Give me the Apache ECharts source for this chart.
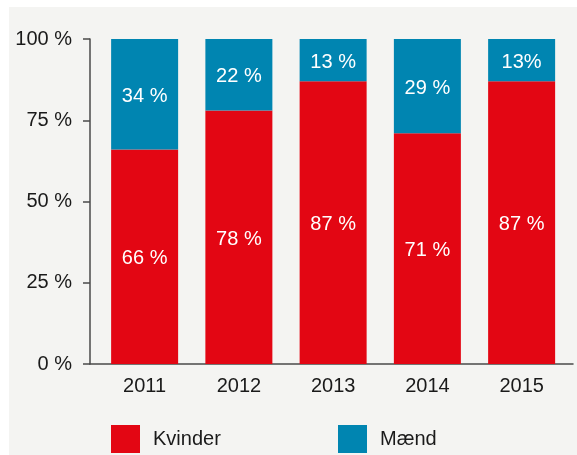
<!DOCTYPE html>
<html>
<head>
<meta charset="utf-8">
<script src="https://cdn.jsdelivr.net/npm/echarts@6/dist/echarts.min.js"></script>
<style>
	html, body { margin: 0; padding: 0; background: #ffffff; }
	#main { position: absolute; left: 9px; top: 7px; width: 568px; height: 448px; background: #f4f4f2; }
</style>
</head>
<body>
<div id="main"></div>
<script>
	// data
	var years = ['2011', '2012', '2013', '2014', '2015']
	var kvinder = [66, 78, 87, 71, 87]
	var maend = [34, 22, 13, 29, 13]
	var kvinderLabels = ['66 %', '78 %', '87 %', '71 %', '87 %']
	var maendLabels = ['34 %', '22 %', '13 %', '29 %', '13%']
	var yTicks = [0, 25, 50, 75, 100]

	var font = '"Liberation Sans", Arial, Helvetica, sans-serif'
	var red = '#e30613'
	var blue = '#0085b1'
	var axisColor = '#4a4a4a'
	var fs = 20

	var mychart = echarts.init(document.getElementById('main'))

	var option = {
		animation: false,
		textStyle: { fontFamily: font },
		grid: [
			{ left: 88.5, right: 8.25, top: 32, bottom: 91, containLabel: false },
			// second grid only carries the longer baseline
			{ left: 81, right: 4, top: 32, bottom: 91, containLabel: false }
		],
		legend: [
			{
				data: ['Kvinder'],
				left: 102, top: 418, padding: 0,
				itemWidth: 29, itemHeight: 28, itemGap: 0,
				icon: 'rect',
				textStyle: { fontSize: fs, color: '#1a1a1a', fontFamily: font, padding: [0, 0, 0, 8] }
			},
			{
				data: ['Mænd'],
				left: 329, top: 418, padding: 0,
				itemWidth: 29, itemHeight: 28, itemGap: 0,
				icon: 'rect',
				textStyle: { fontSize: fs, color: '#1a1a1a', fontFamily: font, padding: [0, 0, 0, 8] }
			}
		],
		xAxis: [
			{
				type: 'category',
				gridIndex: 0,
				data: years,
				axisLine: { show: false },
				axisTick: { show: false },
				axisLabel: { fontSize: fs, color: '#1a1a1a', margin: 12, fontFamily: font }
			},
			{
				type: 'category',
				gridIndex: 1,
				data: years,
				axisLine: { show: true, lineStyle: { color: axisColor, width: 1.5 } },
				axisTick: { show: false },
				axisLabel: { show: false }
			}
		],
		yAxis: [
			{
				type: 'value',
				gridIndex: 0,
				min: yTicks[0],
				max: yTicks[yTicks.length - 1],
				interval: 25,
				offset: 7.5,
				splitLine: { show: false },
				axisLine: { show: true, lineStyle: { color: axisColor, width: 1.5 } },
				axisTick: { show: true, length: 7, inside: false, lineStyle: { color: axisColor, width: 1.5 } },
				axisLabel: { fontSize: fs, color: '#1a1a1a', margin: 18, fontFamily: font, formatter: '{value} %' }
			},
			{
				type: 'value',
				gridIndex: 1,
				min: 0, max: 100,
				show: false
			}
		],
		series: [
			{
				name: 'Kvinder',
				type: 'bar',
				stack: 'total',
				xAxisIndex: 0, yAxisIndex: 0,
				barWidth: 67,
				itemStyle: { color: red },
				label: {
					show: true,
					position: 'inside',
					offset: [0, 2],
					color: '#ffffff',
					fontSize: fs,
					fontFamily: font,
					formatter: function (p) { return kvinderLabels[p.dataIndex] }
				},
				data: kvinder
			},
			{
				name: 'Mænd',
				type: 'bar',
				stack: 'total',
				xAxisIndex: 0, yAxisIndex: 0,
				barWidth: 67,
				itemStyle: { color: blue },
				label: {
					show: true,
					position: 'inside',
					offset: [0, 2],
					color: '#ffffff',
					fontSize: fs,
					fontFamily: font,
					formatter: function (p) { return maendLabels[p.dataIndex] }
				},
				data: maend
			}
		]
	}

	mychart.setOption(option)
</script>
</body>
</html>
